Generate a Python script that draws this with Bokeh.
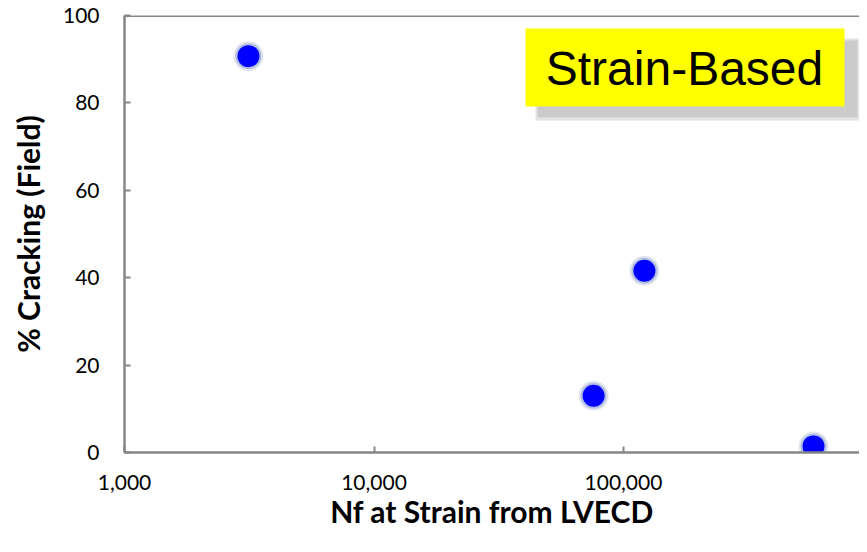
import math
from bokeh.plotting import figure
from bokeh.models import Range1d, Span, BoxAnnotation, Label, FixedTicker, NumeralTickFormatter
from bokeh.embed import file_html
from bokeh.resources import INLINE

# ---- data ----
nf_strain = [3140, 75900, 121300, 577500]
pct_cracking = [90.7, 13.0, 41.6, 1.4]
x_ticks = [1000, 10000, 100000, 1000000]
y_ticks = [0, 20, 40, 60, 80, 100]
box_text = "Strain-Based"

# ---- layout ----
W, H = 859, 536
LEFT, TOP, BOTTOM = 124, 15, 84
frame_w = W - LEFT
frame_h = H - TOP - BOTTOM
px_per_decade = 249.5
x_end = 10 ** (3 + frame_w / px_per_decade)

p = figure(width=W, height=H, x_axis_type="log",
           x_range=Range1d(1000, x_end), y_range=Range1d(0, 100),
           output_backend="svg", toolbar_location=None,
           min_border_left=LEFT, min_border_top=TOP,
           min_border_bottom=BOTTOM, min_border_right=0)
p.outline_line_color = None
p.grid.visible = False
p.background_fill_color = "white"
p.border_fill_color = "white"

axis_col = "#868686"
for ax in (p.xaxis[0], p.yaxis[0]):
    ax.axis_line_color = axis_col
    ax.axis_line_width = 2.5
    ax.major_tick_line_color = axis_col
    ax.major_tick_line_width = 2
    ax.major_tick_in = 6
    ax.major_tick_out = 0
    ax.minor_tick_line_color = None
    ax.major_label_text_font = "Lato"
    ax.major_label_text_font_size = "21px"
    ax.major_label_text_color = "black"
    ax.axis_label_text_font = "Lato"
    ax.axis_label_text_font_style = "bold"
    ax.axis_label_text_font_size = "30px"
    ax.axis_label_text_color = "black"

p.xaxis.ticker = FixedTicker(ticks=x_ticks)
p.xaxis.formatter = NumeralTickFormatter(format="0,0")
p.xaxis.axis_label = "Nf at Strain from LVECD"
p.xaxis.major_label_standoff = 22
p.xaxis.axis_label_standoff = 0

p.yaxis.ticker = FixedTicker(ticks=y_ticks)
p.yaxis.axis_label = "% Cracking (Field)"
p.yaxis.major_label_standoff = 25
p.yaxis.axis_label_standoff = 14

# top border line
p.add_layout(Span(location=100, dimension="width", line_color=axis_col, line_width=3))

# helper: picture pixel -> data (for the annotation box)
def px2x(px):
    return 10 ** (3 + (px - LEFT) / px_per_decade)

def py2y(py):
    return 100 - (py - TOP) * 100 / frame_h

# shadow + yellow box + text
p.add_layout(BoxAnnotation(left=px2x(535), right=px2x(860), top=py2y(38), bottom=py2y(120),
                           fill_color="#d0d0d0", fill_alpha=0.6, line_color=None))
p.add_layout(BoxAnnotation(left=px2x(537), right=px2x(857), top=py2y(40), bottom=py2y(117),
                           fill_color="#c4c4c4", fill_alpha=0.8, line_color=None))
p.add_layout(BoxAnnotation(left=px2x(525), right=px2x(844), top=py2y(28), bottom=py2y(106),
                           fill_color="#FFFF00", fill_alpha=1.0, line_color=None))
p.add_layout(Label(x=px2x(684), y=py2y(68), text=box_text, text_align="center",
                   text_baseline="middle", text_font="Liberation Sans",
                   text_font_size="48px", text_color="black"))

# points with soft halo
p.scatter(nf_strain, pct_cracking, size=30, color="#8a9bc0", alpha=0.25, line_color=None)
p.scatter(nf_strain, pct_cracking, size=26, color="#5a6fd0", alpha=0.35, line_color=None)
p.scatter(nf_strain, pct_cracking, size=22, color="#0000FF", line_color=None)

open("out.html", "w").write(file_html(p, INLINE))
